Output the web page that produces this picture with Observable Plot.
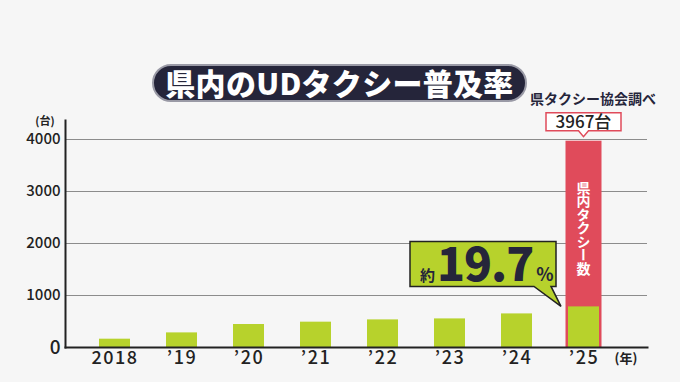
<!DOCTYPE html>
<html><head><meta charset="utf-8">
<script src="https://cdn.jsdelivr.net/npm/d3@7"></script>
<script src="https://cdn.jsdelivr.net/npm/@observablehq/plot@0.6"></script>
<style>
body{margin:0;background:#f6f6f6;font-family:"Noto Sans CJK JP",sans-serif;}
#wrap{position:relative;width:680px;height:382px;overflow:hidden;background:#f6f6f6;}
#chart{position:absolute;left:0;top:0;}
#title{position:absolute;left:152px;top:64px;width:375px;height:38px;box-sizing:border-box;border-radius:19px;background:#25253a;border:2px solid #9a9aa6;color:#fff;font-weight:900;font-size:30px;line-height:33px;text-align:center;letter-spacing:0.3px;white-space:nowrap;}
#source{position:absolute;left:530px;top:88px;font-size:14px;font-weight:700;color:#25253a;white-space:nowrap;line-height:20px;}
</style></head><body>
<div id="wrap"><div id="chart"></div><div id="title">県内のUDタクシー普及率</div><div id="source">県タクシー協会調べ</div></div>
<script>
const years = ["2018", "’19", "’20", "’21", "’22", "’23", "’24", "’25"];
const udTaxis = [160, 281, 442, 487, 531, 550, 646, 781];
const totalYear = "’25";
const totalTaxis = 3967;
const shareText = "19.7";
const yTicks = [0, 1000, 2000, 3000, 4000];
const yUnit = "(台)";
const xUnit = "(年)";
const barLabel = "県内タクシー数";

const FONT = "'Noto Sans CJK JP', sans-serif";
const GREEN = "#b7d22c", RED = "#e04b5b", INK = "#25253a";

const data = years.map((year, i) => ({year, value: udTaxis[i]}));

const plot = Plot.plot({
  width: 680, height: 382,
  marginLeft: 65, marginRight: 33, marginTop: 120, marginBottom: 35,
  style: {background: "transparent", fontFamily: FONT, color: "#222", overflow: "visible"},
  x: {domain: years, range: [78.75, 618.75], paddingInner: 0.54, paddingOuter: 0.27, label: null},
  y: {domain: [0, 4365], label: null},
  marks: [
    Plot.gridY(yTicks.filter(d => d > 0), {stroke: "#8c8c8c", strokeOpacity: 1, strokeWidth: 1.2}),
    Plot.barY([{year: totalYear, value: totalTaxis}], {x: "year", y: "value", fill: RED, insetLeft: -2.5, insetRight: -2.5}),
    Plot.barY(data, {x: "year", y: "value", fill: GREEN}),
    Plot.axisY({ticks: yTicks, tickFormat: d => String(d), tickSize: 0, tickPadding: 5, fontSize: 15, fill: "#222", label: null}),
    Plot.axisX({tickSize: 0, tickPadding: 4, fontSize: 18, fill: "#222", label: null}),
    Plot.frame({anchor: "left", stroke: "#222", strokeWidth: 2}),
    Plot.frame({anchor: "bottom", stroke: "#222", strokeWidth: 2})
  ]
});
document.getElementById("chart").appendChild(plot);

const svg = d3.select(plot);
svg.selectAll("[aria-label='y-axis tick label'] text").attr("font-weight", 500).each(function() {
  if (this.textContent.trim() === "0") d3.select(this).attr("font-size", 19);
});
svg.selectAll("[aria-label='x-axis tick label'] text").attr("letter-spacing", "1.5px").attr("font-weight", 500);

const sx = plot.scale("x"), sy = plot.scale("y");
const bw = sx.bandwidth;
const x25 = sx.apply(totalYear);
const cx = x25 + bw / 2;
const topY = sy.apply(totalTaxis);
const g = svg.append("g").attr("font-family", FONT).attr("text-anchor", "start");

// units
g.append("text").attr("x", 45).attr("y", sy.apply(4000) - 18).attr("dy", "0.36em")
  .attr("text-anchor", "middle").attr("font-size", 11).attr("font-weight", 700).attr("fill", "#222").text(yUnit);
g.append("text").attr("x", x25 + bw + 27).attr("y", sy.apply(0) + 11).attr("dy", "0.36em")
  .attr("text-anchor", "middle").attr("font-size", 13).attr("font-weight", 700).attr("fill", "#222").text(xUnit);

// total label box
const lw = 75, lh = 18, ly = topY - 10 - lh;
g.append("path")
  .attr("d", `M${cx - lw / 2},${ly}h${lw}v${lh}h${-(lw / 2 - 5)}l-5,6l-5,-6h${-(lw / 2 - 5)}z`)
  .attr("fill", "#fff").attr("stroke", RED).attr("stroke-width", 1.5);
g.append("text").attr("x", cx).attr("y", ly + lh / 2 + 0.5).attr("dy", "0.36em").attr("text-anchor", "middle")
  .attr("font-size", 17).attr("font-weight", 500).attr("fill", "#222").text(`${totalTaxis}台`);

// vertical label in red bar
g.append("text").attr("x", cx).attr("y", topY + 87).attr("writing-mode", "vertical-rl")
  .attr("text-anchor", "middle").attr("font-size", 14).attr("font-weight", 700).attr("fill", "#fff")
  .attr("letter-spacing", "-0.5px").text(barLabel);

// callout
const ax = x25 - 7, ay = sy.apply(udTaxis[udTaxis.length - 1]);
const R = ax - 5, L = ax - 151, T = ay - 65, B = ay - 20;
g.append("path")
  .attr("d", `M${L},${T}H${R}V${B}H${R - 5}L${ax},${ay}L${R - 22},${B}H${L}Z`)
  .attr("fill", GREEN).attr("stroke", "#222").attr("stroke-width", 1.5).attr("stroke-linejoin", "miter");
const t = g.append("text").attr("x", L + 10).attr("y", B - 5).attr("text-anchor", "start").attr("fill", INK).attr("font-weight", 700);
t.append("tspan").attr("font-size", 15).text("約");
t.append("tspan").attr("dx", 2).attr("font-size", 46).attr("font-weight", 900).attr("letter-spacing", "-1px").text(shareText);
t.append("tspan").attr("dx", 3).attr("font-size", 18).text("%");
</script>
</body></html>
